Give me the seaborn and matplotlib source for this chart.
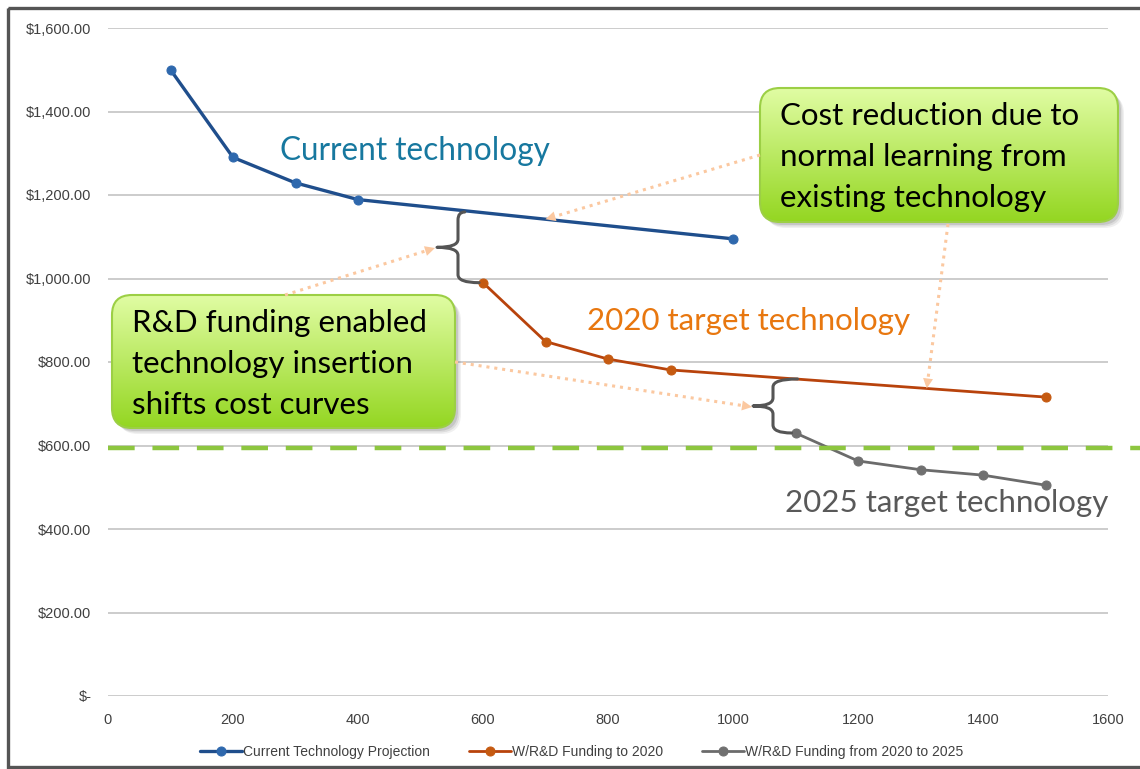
import numpy as np
import pandas as pd
import matplotlib
matplotlib.use("Agg")
import matplotlib.pyplot as plt
import seaborn as sns
from matplotlib import font_manager
from matplotlib.patches import FancyBboxPatch, Rectangle, PathPatch
from matplotlib.path import Path
from matplotlib.ticker import FuncFormatter, MultipleLocator

# ---- data -------------------------------------------------------------
current_x = [100, 200, 300, 400, 1000]
current_y = [1500, 1290, 1229, 1189, 1095]

rd2020_x = [600, 700, 800, 900, 1500]
rd2020_y = [990, 849, 807, 781, 716]

rd2025_x = [1100, 1200, 1300, 1400, 1500]
rd2025_y = [630, 563, 542, 529, 505]

target_cost = 595

series_names = ["Current Technology Projection",
                "W/R&D Funding to 2020",
                "W/R&D Funding from 2020 to 2025"]
x_ticks = [0, 200, 400, 600, 800, 1000, 1200, 1400, 1600]

# ---- fonts ------------------------------------------------------------
def available(name):
    try:
        font_manager.findfont(name, fallback_to_default=False)
        return True
    except Exception:
        return False

narrow = next((f for f in ["Liberation Sans Narrow", "DejaVu Sans Condensed",
                           "Liberation Sans"] if available(f)), "DejaVu Sans")
label_font = "Lato" if available("Lato") else "DejaVu Sans"

sns.set_theme(style="white")
plt.rcParams["font.family"] = [narrow, "DejaVu Sans"]

W, H = 1140, 769
fig = plt.figure(figsize=(W / 100, H / 100), dpi=100)
fig.patch.set_facecolor("white")
ax = fig.add_axes([108 / W, 1 - 696 / H, 1000 / W, 668 / H])

# ---- series -------------------------------------------------------------
blue, orange, grey = "#1f4e8c", "#b8430c", "#6b6b6b"
frames = [
    (pd.DataFrame({"x": current_x, "y": current_y}), blue, "#2e68ad", series_names[0], 2.4),
    (pd.DataFrame({"x": rd2020_x, "y": rd2020_y}), orange, "#c55a11", series_names[1], 2.0),
    (pd.DataFrame({"x": rd2025_x, "y": rd2025_y}), grey, "#707070", series_names[2], 2.0),
]
for df, lc, mc, name, lw in frames:
    sns.lineplot(data=df, x="x", y="y", ax=ax, color=lc, linewidth=lw,
                 marker="o", markersize=6.5, markerfacecolor=mc,
                 markeredgecolor=mc, label=name, zorder=4)

ax.set_xlim(0, 1600)
ax.set_ylim(0, 1600)
ax.set_xticks(x_ticks)
ax.set_xticklabels([str(t) for t in x_ticks])
ax.yaxis.set_major_locator(MultipleLocator(200))
ax.yaxis.set_major_formatter(FuncFormatter(
    lambda v, p: "$-" if v == 0 else f"${v:,.2f}"))
ax.grid(axis="y", color="#bfbfbf", linewidth=1.1)
ax.grid(axis="x", visible=False)
for s in ax.spines.values():
    s.set_visible(False)
ax.tick_params(axis="both", length=0, labelsize=10.5, labelcolor="#404040")
ax.tick_params(axis="y", pad=12)
ax.tick_params(axis="x", pad=12)
ax.set_xlabel("")
ax.set_ylabel("")
ax.set_facecolor("white")

# target cost line, running past the right edge of the plot area
ax.axhline(target_cost, xmin=0, xmax=(W - 108) / 1000, clip_on=False,
           color="#8dc63f", linewidth=3.2, dashes=(6, 4), zorder=5)

leg = ax.legend(loc="upper center", bbox_to_anchor=(0.474, -0.055), ncol=3,
                frameon=False, fontsize=10, handlelength=3.0,
                columnspacing=2.8, handletextpad=0.1)
for t in leg.get_texts():
    t.set_color("#404040")

# ---- overlay in pixel coordinates ---------------------------------------
ov = fig.add_axes([0, 0, 1, 1], zorder=10)
ov.set_xlim(0, W)
ov.set_ylim(H, 0)
ov.axis("off")
ov.patch.set_alpha(0)

def to_px(x, y):
    dx, dy = ax.transData.transform((x, y))
    return dx, H - dy

# outer frame
ov.add_patch(Rectangle((8, 8), W + 20, H - 10, fill=False,
                       edgecolor="#555555", linewidth=2.4))

# series labels
ov.text(280, 151, "Current technology", color="#17789f", fontsize=22.7,
        family=label_font, va="center", ha="left")
ov.text(587, 321, "2020 target technology", color="#e8770f", fontsize=22.5,
        family=label_font, va="center", ha="left")
ov.text(1108, 503, "2025 target technology", color="#595959", fontsize=22.5,
        family=label_font, va="center", ha="right")

# braces between curves
def brace(x_vert, y_top, y_bot, x_tip, x_top_end, x_bot_end, r=8):
    ym = (y_top + y_bot) / 2
    verts = [
        (x_top_end, y_top), (x_vert, y_top), (x_vert, y_top + r),
        (x_vert, ym - r),
        (x_vert, ym), (x_tip, ym),
        (x_vert, ym), (x_vert, ym + r),
        (x_vert, y_bot - r),
        (x_vert, y_bot), (x_bot_end, y_bot),
    ]
    codes = [Path.MOVETO, Path.CURVE3, Path.CURVE3, Path.LINETO,
             Path.CURVE3, Path.CURVE3, Path.CURVE3, Path.CURVE3,
             Path.LINETO, Path.CURVE3, Path.CURVE3]
    ov.add_patch(PathPatch(Path(verts, codes), fill=False,
                           edgecolor="#555555", linewidth=2.2,
                           capstyle="round", joinstyle="round"))

bx1, by1_top = to_px(590, np.interp(590, current_x, current_y))
_, by1_bot = to_px(rd2020_x[0], rd2020_y[0])
brace(458, by1_top, by1_bot, 437, bx1 - 12, to_px(rd2020_x[0], 0)[0] - 4)

bx2, by2_top = to_px(1100, np.interp(1100, rd2020_x, rd2020_y))
_, by2_bot = to_px(rd2025_x[0], rd2025_y[0])
brace(773, by2_top, by2_bot, 753, bx2 + 2, to_px(rd2025_x[0], 0)[0] - 4)

# dotted pointer arrows
peach = "#fbc8a0"
def pointer(p0, p1):
    (x0, y0), (x1, y1) = p0, p1
    d = np.hypot(x1 - x0, y1 - y0)
    ux, uy = (x1 - x0) / d, (y1 - y0) / d
    ov.plot([x0, x1 - ux * 8], [y0, y1 - uy * 8], color=peach,
            linewidth=2.2, linestyle=(0, (1, 1.6)), solid_capstyle="butt")
    ov.annotate("", xy=(x1, y1), xytext=(x1 - ux * 12, y1 - uy * 12),
                arrowprops=dict(arrowstyle="-|>", color=peach, lw=0,
                                mutation_scale=18, shrinkA=0, shrinkB=0))

pointer((760, 155), to_px(700, np.interp(700, current_x, current_y)))
pointer((948, 224), to_px(1310, np.interp(1310, rd2020_x, rd2020_y)))
pointer((285, 295), (435, 248))
pointer((455, 362), (752, 407))

# green callout boxes with vertical gradient and soft shadow
grad = np.linspace(0, 1, 256)[:, None]
top_c = np.array([0.88, 0.99, 0.64])
bot_c = np.array([0.58, 0.84, 0.13])
grad_img = top_c * (1 - grad[..., None]) + bot_c * grad[..., None]
grad_img = np.repeat(grad_img, 2, axis=1)

def callout(x0, y0, x1, y1, lines):
    for k, a in enumerate([0.10, 0.08, 0.06]):
        off = 3 + k * 1.5
        ov.add_patch(FancyBboxPatch((x0 + off, y0 + off), x1 - x0, y1 - y0,
                                    boxstyle="round,pad=0,rounding_size=20",
                                    facecolor="black", edgecolor="none", alpha=a))
    box = FancyBboxPatch((x0, y0), x1 - x0, y1 - y0,
                         boxstyle="round,pad=0,rounding_size=20",
                         facecolor="none", edgecolor="#9ccf45", linewidth=1.5)
    ov.add_patch(box)
    im = ov.imshow(grad_img, extent=(x0, x1, y1, y0), aspect="auto",
                   interpolation="bilinear", zorder=1.5)
    im.set_clip_path(box)
    box.set_zorder(1.6)
    for i, line in enumerate(lines):
        ov.text(x0 + 20, y0 + 28 + i * 41, line, fontsize=22.5, color="black",
                family=label_font, va="center", ha="left", zorder=3)

callout(760, 88, 1118, 222, ["Cost reduction due to",
                             "normal learning from",
                             "existing technology"])
callout(112, 295, 455, 428, ["R&D funding enabled",
                             "technology insertion",
                             "shifts cost curves"])

fig.savefig("out.png", dpi=100, facecolor="white")
